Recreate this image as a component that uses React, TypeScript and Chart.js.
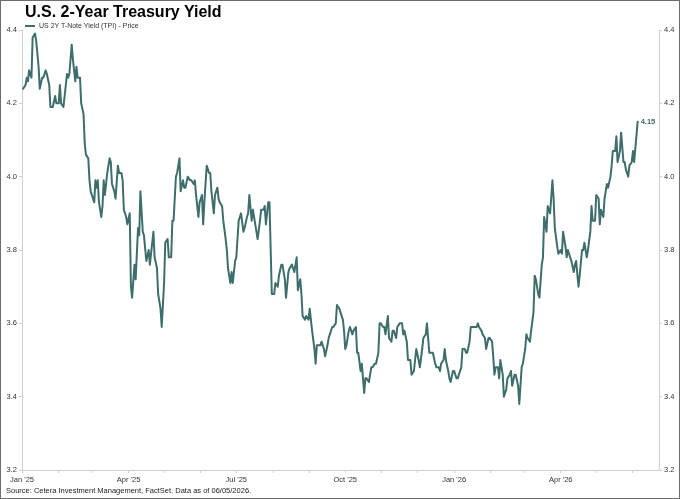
import React, { useEffect, useRef } from "react";
import { Chart, registerables } from "chart.js";

Chart.register(...registerables);

// Days since 2025-01-01 for each observation
const dayOffsets = [
  1, 3, 4, 5, 6, 8, 9, 11, 12, 14, 15, 17, 18, 20, 21, 23, 24, 26, 28, 29,
  31, 32, 33, 35, 36, 38, 39, 40, 42, 43, 45, 46, 47, 49, 50, 52, 53, 54, 56, 57,
  58, 60, 61, 62, 63, 64, 65, 67, 68, 69, 70, 72, 74, 75, 76, 78, 79, 81, 82, 84,
  85, 86, 88, 89, 91, 92, 93, 95, 96, 98, 99, 100, 102, 103, 105, 107, 108, 110, 111, 112,
  114, 115, 117, 118, 120, 121, 123, 124, 126, 127, 128, 130, 131, 133, 134, 136, 137, 138, 140, 142,
  143, 145, 146, 147, 149, 150, 152, 153, 154, 156, 158, 159, 160, 162, 163, 165, 166, 167, 169, 170,
  172, 173, 174, 176, 177, 178, 180, 181, 183, 184, 185, 187, 188, 190, 191, 192, 194, 195, 197, 198,
  199, 201, 202, 204, 205, 206, 208, 209, 211, 213, 214, 216, 217, 219, 220, 222, 223, 225, 226, 228,
  229, 230, 232, 233, 235, 236, 237, 239, 240, 242, 243, 244, 245, 247, 248, 249, 251, 252, 253, 255,
  256, 258, 259, 260, 262, 263, 265, 266, 268, 269, 271, 272, 273, 274, 276, 277, 279, 280, 282, 283,
  284, 286, 287, 289, 290, 291, 293, 295, 296, 298, 299, 301, 302, 303, 305, 306, 307, 309, 310, 312,
  313, 314, 316, 317, 319, 321, 322, 323, 325, 326, 328, 329, 331, 332, 333, 335, 336, 338, 339, 341,
  342, 343, 344, 346, 347, 349, 350, 352, 353, 354, 356, 357, 358, 360, 361, 362, 364, 365, 367, 368,
  369, 371, 372, 374, 375, 376, 378, 379, 381, 382, 384, 385, 386, 388, 389, 391, 392, 394, 395, 397,
  398, 399, 400, 402, 403, 404, 406, 407, 409, 410, 412, 413, 414, 416, 417, 419, 420, 422, 423, 425,
  426, 427, 429, 430, 432, 433, 434, 436, 437, 439, 440, 441, 443, 444, 446, 448, 449, 450, 452, 453,
  455, 456, 457, 459, 460, 461, 463, 464, 466, 467, 468, 470, 471, 473, 474, 475, 477, 478, 480, 481,
  482, 484, 485, 487, 488, 489, 491, 492, 494, 495, 497, 498, 499, 501, 502, 503, 505, 506, 508, 509,
  510, 512, 513, 515, 516, 517, 520,
];

// US 2Y T-Note yield (%)
const yields = [
  4.24, 4.25, 4.27, 4.26, 4.29, 4.27, 4.38, 4.39, 4.37, 4.30, 4.24, 4.27, 4.27, 4.29, 4.28, 4.25, 4.19, 4.19, 4.22, 4.20,
  4.20, 4.25, 4.20, 4.19, 4.22, 4.28, 4.27, 4.28, 4.36, 4.32, 4.26, 4.30, 4.27, 4.27, 4.20, 4.17, 4.09, 4.06, 4.05, 3.99,
  3.96, 3.94, 3.93, 3.99, 3.97, 3.99, 3.93, 3.89, 3.92, 3.99, 3.95, 4.01, 4.05, 4.04, 3.98, 3.96, 3.94, 4.03, 4.01, 4.01,
  3.99, 3.91, 3.89, 3.87, 3.90, 3.70, 3.67, 3.76, 3.72, 3.86, 3.84, 3.96, 3.85, 3.84, 3.77, 3.80, 3.76, 3.82, 3.85, 3.78,
  3.75, 3.68, 3.64, 3.59, 3.71, 3.82, 3.83, 3.78, 3.78, 3.88, 3.88, 4.00, 4.01, 4.05, 3.96, 3.99, 3.97, 3.97, 4.00, 3.99,
  3.99, 3.98, 3.99, 3.95, 3.89, 3.93, 3.95, 3.87, 3.93, 4.03, 4.01, 4.01, 3.96, 3.90, 3.95, 3.97, 3.94, 3.93, 3.92, 3.88,
  3.83, 3.80, 3.75, 3.71, 3.74, 3.71, 3.77, 3.78, 3.88, 3.89, 3.90, 3.85, 3.86, 3.89, 3.90, 3.95, 3.88, 3.91, 3.87, 3.85,
  3.83, 3.88, 3.91, 3.91, 3.92, 3.87, 3.93, 3.93, 3.68, 3.68, 3.71, 3.70, 3.73, 3.76, 3.76, 3.72, 3.67, 3.74, 3.75, 3.76,
  3.75, 3.74, 3.78, 3.69, 3.72, 3.68, 3.62, 3.61, 3.62, 3.61, 3.64, 3.61, 3.58, 3.53, 3.49, 3.54, 3.54, 3.54, 3.55, 3.53,
  3.51, 3.54, 3.56, 3.57, 3.59, 3.59, 3.60, 3.65, 3.64, 3.63, 3.61, 3.58, 3.53, 3.54, 3.58, 3.59, 3.57, 3.58, 3.59, 3.52,
  3.52, 3.47, 3.49, 3.41, 3.45, 3.45, 3.44, 3.48, 3.48, 3.49, 3.49, 3.52, 3.60, 3.60, 3.59, 3.59, 3.57, 3.62, 3.56, 3.55,
  3.58, 3.58, 3.56, 3.59, 3.60, 3.60, 3.57, 3.58, 3.55, 3.50, 3.50, 3.46, 3.47, 3.50, 3.53, 3.50, 3.48, 3.53, 3.56, 3.57,
  3.60, 3.56, 3.52, 3.52, 3.52, 3.49, 3.48, 3.48, 3.47, 3.49, 3.50, 3.53, 3.50, 3.47, 3.45, 3.44, 3.47, 3.47, 3.45, 3.45,
  3.46, 3.48, 3.53, 3.53, 3.52, 3.52, 3.55, 3.59, 3.59, 3.59, 3.59, 3.60, 3.59, 3.58, 3.57, 3.56, 3.53, 3.56, 3.56, 3.55,
  3.51, 3.46, 3.48, 3.48, 3.45, 3.50, 3.46, 3.40, 3.42, 3.45, 3.46, 3.47, 3.43, 3.46, 3.46, 3.43, 3.38, 3.48, 3.49, 3.53,
  3.57, 3.56, 3.55, 3.58, 3.63, 3.73, 3.72, 3.68, 3.67, 3.76, 3.78, 3.89, 3.85, 3.92, 3.90, 3.99, 3.94, 3.86, 3.81, 3.79,
  3.80, 3.79, 3.85, 3.81, 3.78, 3.80, 3.78, 3.77, 3.74, 3.76, 3.77, 3.70, 3.73, 3.80, 3.80, 3.82, 3.78, 3.80, 3.85, 3.92,
  3.88, 3.88, 3.95, 3.94, 3.87, 3.91, 3.89, 3.94, 3.98, 3.97, 4.00, 4.03, 4.07, 4.07, 4.11, 4.04, 4.07, 4.12, 4.04, 4.04,
  4.02, 4.00, 4.03, 4.04, 4.07, 4.04, 4.15,
];

// Monthly x-axis ticks (year, month index) and their labels
const tickYears = [2025, 2025, 2025, 2025, 2025, 2025, 2025, 2025, 2025, 2025, 2025, 2025, 2026, 2026, 2026, 2026, 2026, 2026];
const tickMonthIdx = [0, 1, 2, 3, 4, 5, 6, 7, 8, 9, 10, 11, 0, 1, 2, 3, 4, 5];
const tickLabels = ["Jan '25", "", "", "Apr '25", "", "", "Jul '25", "", "", "Oct '25", "", "", "Jan '26", "", "", "Apr '26", "", ""];

const yTicks = [3.2, 3.4, 3.6, 3.8, 4.0, 4.2, 4.4];

const TITLE = "U.S. 2-Year Treasury Yield";
const SERIES = "US 2Y T-Note Yield (TPI) - Price";
const SOURCE = "Source: Cetera Investment Management, FactSet. Data as of 06/05/2026.";

const LINE = "#3e6e6c";
const FONT = "'Liberation Sans', Arial, Helvetica, sans-serif";
const AXIS = "#cfcfcf";

const base = Date.UTC(2025, 0, 1);
const tickDays = tickYears.map((y, i) => Math.round((Date.UTC(y, tickMonthIdx[i], 1) - base) / 86400000));

export default function App() {
  const ref = useRef<HTMLCanvasElement | null>(null);

  useEffect(() => {
    if (!ref.current) return;
    const endLabel = {
      id: "endLabel",
      afterDatasetsDraw(chart: any) {
        const meta = chart.getDatasetMeta(0);
        const pt = meta.data[meta.data.length - 1];
        if (!pt) return;
        const ctx = chart.ctx;
        ctx.save();
        ctx.font = `bold 7.5px ${FONT}`;
        ctx.fillStyle = LINE;
        ctx.textBaseline = "middle";
        ctx.textAlign = "left";
        ctx.fillText(yields[yields.length - 1].toFixed(2), pt.x + 3, pt.y);
        ctx.restore();
      },
    };

    const yAxis = (pos: "left" | "right", width: number) => ({
      type: "linear" as const,
      position: pos,
      min: 3.2,
      max: 4.4,
      display: true,
      afterBuildTicks: (s: any) => {
        s.ticks = yTicks.map((v) => ({ value: v }));
      },
      afterFit: (s: any) => {
        s.width = width;
      },
      ticks: {
        callback: (v: any) => Number(v).toFixed(1),
        font: { family: FONT, size: 7.5 },
        color: "#333",
        padding: 2,
      },
      grid: { drawOnChartArea: false, tickLength: 3, color: AXIS },
      border: { display: true, color: AXIS },
    });

    const chart = new Chart(ref.current, {
      type: "line",
      data: {
        datasets: [
          {
            label: SERIES,
            data: dayOffsets.map((d, i) => ({ x: d, y: yields[i] })),
            borderColor: LINE,
            backgroundColor: LINE,
            borderWidth: 2,
            borderJoinStyle: "round",
            borderCapStyle: "round",
            pointRadius: 0,
            tension: 0,
            yAxisID: "y",
          },
        ],
      },
      options: {
        responsive: false,
        animation: false,
        devicePixelRatio: 1,
        layout: { padding: { top: 30, bottom: 0, left: 0, right: 0 } },
        plugins: { legend: { display: false }, tooltip: { enabled: false }, title: { display: false } },
        scales: {
          x: {
            type: "linear",
            min: 0,
            max: 538,
            afterBuildTicks: (s: any) => {
              s.ticks = tickDays.map((v) => ({ value: v }));
            },
            afterFit: (s: any) => {
              s.height = 29;
            },
            ticks: {
              autoSkip: false,
              maxRotation: 0,
              minRotation: 0,
              padding: 2,
              font: { family: FONT, size: 7.5 },
              color: "#333",
              callback: (v: any) => {
                const i = tickDays.indexOf(Number(v));
                return i >= 0 ? tickLabels[i] : "";
              },
            },
            grid: { drawOnChartArea: false, tickLength: 3, color: AXIS },
            border: { display: true, color: AXIS },
          },
          y: yAxis("left", 22),
          y2: yAxis("right", 21),
        },
      },
      plugins: [endLabel],
    });
    return () => chart.destroy();
  }, []);

  return (
    <div style={{ position: "fixed", left: 0, top: 0, width: 680, height: 499, background: "#fff", overflow: "hidden" }}>
      <canvas ref={ref} width={680} height={499} style={{ position: "absolute", left: 0, top: 0, width: 680, height: 499 }} />
      <div
        style={{
          position: "absolute",
          left: 25,
          top: 3,
          fontFamily: FONT,
          fontWeight: "bold",
          fontSize: 16,
          lineHeight: "18px",
          color: "#000",
          whiteSpace: "nowrap",
        }}
      >
        {TITLE}
      </div>
      <div style={{ position: "absolute", left: 25, top: 25, width: 10, height: 2, background: LINE }} />
      <div
        style={{
          position: "absolute",
          left: 39,
          top: 21,
          fontFamily: FONT,
          fontSize: 7,
          lineHeight: "10px",
          color: "#333",
          whiteSpace: "nowrap",
        }}
      >
        {SERIES}
      </div>
      <div
        style={{
          position: "absolute",
          left: 6,
          top: 486,
          fontFamily: FONT,
          fontSize: 7.5,
          lineHeight: "10px",
          color: "#222",
          whiteSpace: "nowrap",
        }}
      >
        {SOURCE}
      </div>
      <div
        style={{
          position: "absolute",
          left: 0,
          top: 0,
          width: 680,
          height: 499,
          boxSizing: "border-box",
          border: "1px solid #6e6e6e",
          pointerEvents: "none",
        }}
      />
    </div>
  );
}
